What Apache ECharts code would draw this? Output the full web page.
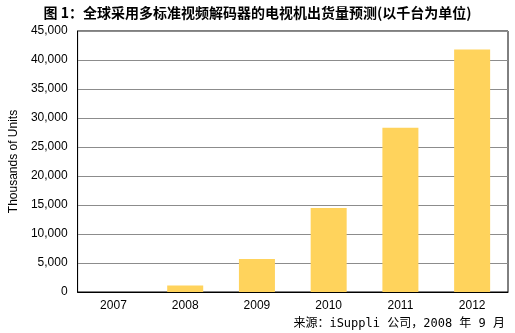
<!DOCTYPE html>
<html><head><meta charset="utf-8">
<script src="https://cdn.jsdelivr.net/npm/echarts@6/dist/echarts.min.js"></script>
<style>html,body{margin:0;padding:0;background:#fff}#c{width:515px;height:333px}</style>
</head><body><div id="c"></div>
<script>
const categories = ['2007','2008','2009','2010','2011','2012'];
const shipments = [0, 1100, 5700, 14500, 28300, 41800];
const yTicks = [0,5000,10000,15000,20000,25000,30000,35000,40000,45000];

const chart = echarts.init(document.getElementById('c'));
chart.setOption({
  animation:false,
  backgroundColor:'#fff',
  title:[{
    text:'图 1：全球采用多标准视频解码器的电视机出货量预测(以千台为单位)',
    left:'center', top:1,
    textStyle:{fontFamily:'Noto Sans CJK SC', fontWeight:'bold', fontSize:14, color:'#000'}
  },{
    text:'来源：iSuppli 公司，2008 年 9 月',
    right:5, top:313,
    textStyle:{fontFamily:'DejaVu Sans Mono, Noto Sans CJK SC', fontWeight:'normal', fontSize:12, color:'#000'}
  }],
  grid:{left:74, top:31, right:7, bottom:41, show:true, borderColor:'#000', borderWidth:1},
  xAxis:{
    type:'category', data:categories,
    axisLine:{lineStyle:{color:'#000'}},
    axisTick:{show:false},
    axisLabel:{fontFamily:'Liberation Sans', fontSize:12, color:'#000', margin:8}
  },
  yAxis:{
    type:'value', min:0, max:45000, interval:5000,
    name:'Thousands of Units', nameLocation:'middle', nameGap:57,
    nameTextStyle:{fontFamily:'Liberation Sans', fontWeight:'normal', fontSize:12, color:'#000'},
    axisLine:{show:true, lineStyle:{color:'#000'}},
    axisTick:{show:false},
    splitLine:{lineStyle:{color:'#8c8c8c', width:1}},
    axisLabel:{fontFamily:'Liberation Sans', fontSize:12, color:'#000', margin:10,
      formatter:v=>yTicks.includes(v)?v.toLocaleString('en-US'):''}
  },
  series:[{
    type:'bar', data:shipments, barWidth:36,
    itemStyle:{color:'#FFD35C'}
  }]
});
</script></body></html>
